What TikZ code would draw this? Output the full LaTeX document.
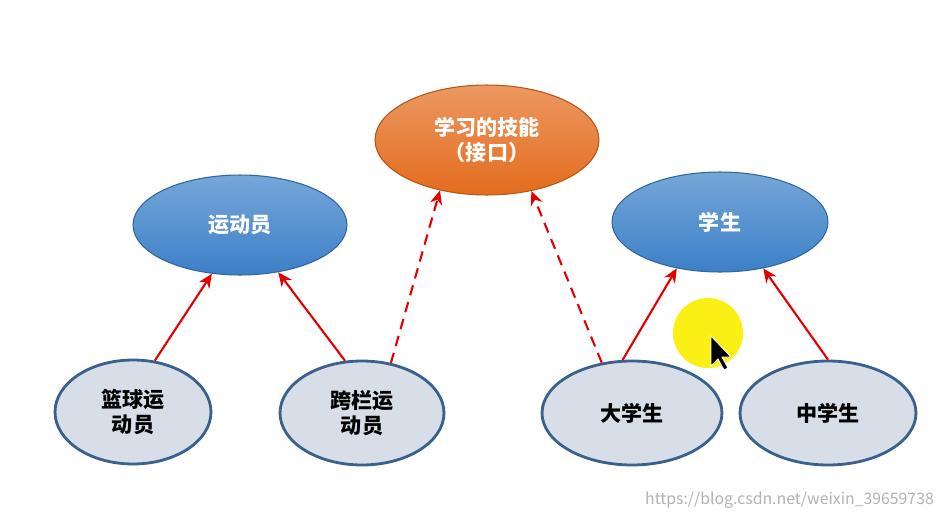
\documentclass[tikz,border=0pt]{standalone}
\usepackage{fontspec}
\setmainfont{Noto Sans CJK SC}
\usetikzlibrary{shapes.geometric,arrows.meta}
\begin{document}
\begin{tikzpicture}[x=0.02cm,y=-0.02cm,
  top/.style={ellipse,top color=#1!70!white,bottom color=#1,draw=#1!80!black,line width=0.6pt,text=white,font=\bfseries\large,inner sep=0pt,align=center},
  sub/.style={ellipse,fill={rgb,255:red,216;green,222;blue,232},draw={rgb,255:red,58;green,96;blue,140},line width=1.6pt,font=\bfseries\large,inner sep=0pt,align=center},
  arr/.style={red!90!black,line width=1.2pt,-{Stealth[length=8pt,width=7pt]}},
  darr/.style={arr,dashed,dash pattern=on 6pt off 4pt}]
\useasboundingbox (0,0) rectangle (947,521);
\fill[white] (0,0) rectangle (947,521);
\definecolor{bl}{RGB}{60,128,200}
\definecolor{og}{RGB}{228,108,30}
\definecolor{yl}{RGB}{250,240,20}
\node[top=og,minimum width=4.48cm,minimum height=2.2cm] (skill) at (487,140) {学习的技能\\（接口）};
\node[top=bl,minimum width=4.28cm,minimum height=2cm] (ath) at (240,225) {运动员};
\node[top=bl,minimum width=4.32cm,minimum height=2cm] (stu) at (720,222) {学生};
\node[sub,minimum width=3.12cm,minimum height=2.08cm] (lq) at (133,412) {篮球运\\动员};
\node[sub,minimum width=3.28cm,minimum height=2.08cm] (kl) at (362,413) {跨栏运\\动员};
\node[sub,minimum width=3.6cm,minimum height=2.08cm] (dx) at (632,413) {大学生};
\node[sub,minimum width=3.52cm,minimum height=2.08cm] (zx) at (828,413) {中学生};
\draw[arr] (lq.67) -- (ath.-120);
\draw[arr] (kl.108) -- (ath.-51);
\draw[darr] (kl.60) -- (skill.-133);
\draw[darr] (dx.121) -- (skill.-49);
\draw[arr] (dx.100) -- (stu.-133);
\draw[arr] (zx.90) -- (stu.-47);
\fill[yl] (708,333) circle (35);
\fill[black,draw=white,line width=0.5pt] (711,336) -- (711,366) -- (718,359) -- (724,370) -- (728,368) -- (722,357) -- (731,357) -- cycle;
\node[anchor=east,text=gray!60,font=\small] (wm) at (940,500) {https://blog.csdn.net/weixin\_39659738};
\end{tikzpicture}
\end{document}
